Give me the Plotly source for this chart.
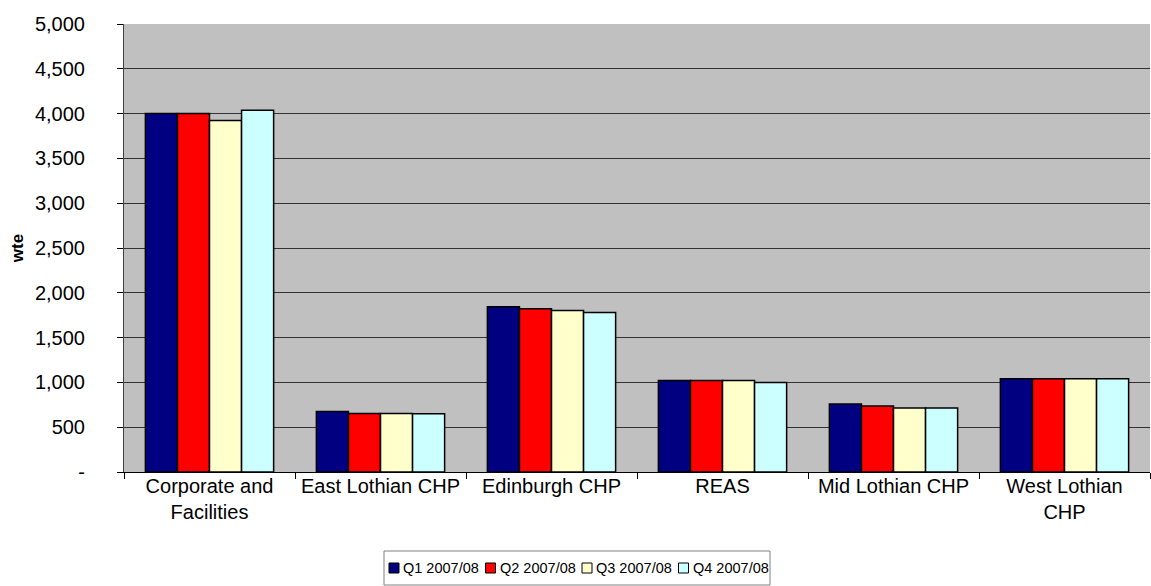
import plotly.graph_objects as go

# Staffing (whole-time equivalent) by division, per quarter of 2007/08
categories = ["Corporate and<br>Facilities", "East Lothian CHP", "Edinburgh CHP",
              "REAS", "Mid Lothian CHP", "West Lothian<br>CHP"]
q1 = [4000, 674, 1845, 1022, 758, 1040]
q2 = [4000, 652, 1823, 1022, 737, 1040]
q3 = [3922, 652, 1802, 1020, 715, 1040]
q4 = [4037, 650, 1780, 1000, 715, 1040]
series_names = ["Q1 2007/08", "Q2 2007/08", "Q3 2007/08", "Q4 2007/08"]
series_colors = ["#000080", "#FF0000", "#FFFFCC", "#CCFFFF"]

y_tick_vals = [0, 500, 1000, 1500, 2000, 2500, 3000, 3500, 4000, 4500, 5000]
y_tick_text = ["-", "500", "1,000", "1,500", "2,000", "2,500", "3,000",
               "3,500", "4,000", "4,500", "5,000"]

FONT = "Liberation Sans, Arial, sans-serif"
W, H = 1151, 586
M_L, M_R, M_T, M_B = 124, 1, 24, 114
PLOT_W = W - M_L - M_R
PLOT_H = H - M_T - M_B


def px_x(x):
    """Pixel column -> paper x fraction."""
    return (x - M_L) / PLOT_W


def px_y(y):
    """Pixel row -> paper y fraction."""
    return (H - M_B - y) / PLOT_H


fig = go.Figure()
for name, vals, color in zip(series_names, [q1, q2, q3, q4], series_colors):
    fig.add_trace(go.Bar(
        x=categories, y=vals, name=name,
        marker=dict(color=color, line=dict(color="#000000", width=1.5)),
        showlegend=False,
    ))

# Compact boxed legend under the chart, one row of key squares and labels
LEG_L, LEG_R, LEG_T, LEG_B = 384, 770, 551, 585
ITEM_PITCH = 96.5
SQ = 10
shapes = [dict(type="rect", xref="paper", yref="paper",
               x0=px_x(LEG_L), x1=px_x(LEG_R), y0=px_y(LEG_B), y1=px_y(LEG_T),
               line=dict(color="#808080", width=1), fillcolor="#FFFFFF", layer="above")]
annotations = []
mid = (LEG_T + LEG_B) / 2
for i, (name, color) in enumerate(zip(series_names, series_colors)):
    sx = LEG_L + 5 + i * ITEM_PITCH
    shapes.append(dict(type="rect", xref="paper", yref="paper",
                       x0=px_x(sx), x1=px_x(sx + SQ),
                       y0=px_y(mid + SQ / 2), y1=px_y(mid - SQ / 2),
                       line=dict(color="#000000", width=1), fillcolor=color,
                       layer="above"))
    annotations.append(dict(text=name, xref="paper", yref="paper",
                            x=px_x(sx + SQ + 2), y=px_y(mid),
                            xanchor="left", yanchor="middle", showarrow=False,
                            font=dict(family=FONT, size=14.5, color="#000000")))

fig.update_layout(
    width=W, height=H,
    margin=dict(l=M_L, r=M_R, t=M_T, b=M_B, autoexpand=False),
    paper_bgcolor="#FFFFFF",
    plot_bgcolor="#C0C0C0",
    barmode="group",
    bargap=0.25,
    bargroupgap=0,
    font=dict(family=FONT, size=20, color="#000000"),
    showlegend=False,
    shapes=shapes,
    annotations=annotations,
)

fig.update_xaxes(
    type="category",
    tickson="boundaries",
    ticks="outside", ticklen=6, tickcolor="#000000",
    ticklabelstandoff=-4,
    showline=True, linecolor="#000000", linewidth=1,
    showgrid=False,
    tickfont=dict(size=20),
)

fig.update_yaxes(
    range=[0, 5000],
    tickvals=y_tick_vals, ticktext=y_tick_text,
    ticks="outside", ticklen=6, tickcolor="#000000",
    ticklabelstandoff=28,
    showline=True, linecolor="#404040", linewidth=1,
    showgrid=True, gridcolor="#333333", gridwidth=1,
    zeroline=False,
    tickfont=dict(size=20),
    title=dict(text="<b>wte</b>", font=dict(size=17), standoff=6),
)

fig.write_html("out.html")
